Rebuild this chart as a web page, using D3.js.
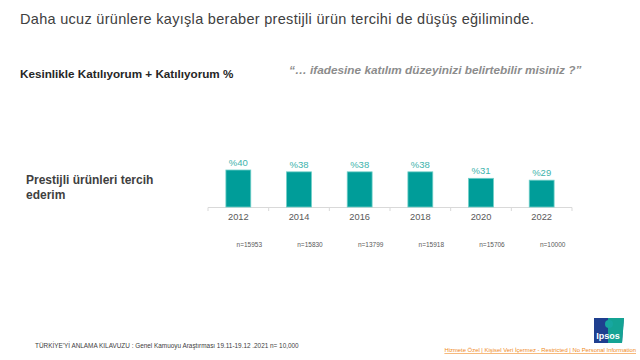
<!DOCTYPE html>
<html><head><meta charset="utf-8">
<script src="https://cdn.jsdelivr.net/npm/d3@7"></script>
<style>body{margin:0;background:#fff}svg{display:block}</style>
</head><body><svg id="c" width="640" height="360"></svg>
<script>
const years = ["2012","2014","2016","2018","2020","2022"];
const values = [40,38,38,38,31,29];
const sampleSizes = ["n=15953","n=15830","n=13799","n=15918","n=15706","n=10000"];
const rowLabel = ["Prestijli ürünleri tercih","ederim"];

const svg = d3.select("#c");
const font = "Liberation Sans, Arial, sans-serif";

svg.append("text").attr("x",20).attr("y",24).attr("font-family",font).attr("font-size",14.5)
  .attr("letter-spacing",0.3).attr("fill","#404040").text("Daha ucuz ürünlere kayışla beraber prestijli ürün tercihi de düşüş eğiliminde.");
svg.append("text").attr("x",20).attr("y",78).attr("font-family",font).attr("font-size",11.7).attr("font-weight","bold")
  .attr("fill","#262626").text("Kesinlikle Katılıyorum + Katılıyorum %");
svg.append("text").attr("x",289).attr("y",74).attr("font-family",font).attr("font-size",11.8).attr("font-weight","bold")
  .attr("font-style","italic").attr("fill","#8c8c8c").text("“… ifadesine katılım düzeyinizi belirtebilir misiniz ?”");

const rl = svg.append("text").attr("font-family",font).attr("font-size",12).attr("font-weight","bold").attr("fill","#404040");
rowLabel.forEach((t,i)=>rl.append("tspan").attr("x",26).attr("y",184+i*15).text(t));

const x = d3.scaleBand().domain(years).range([208,572]).paddingInner(0.59).paddingOuter(0.295);
const y = d3.scaleLinear().domain([0,40]).range([207,170]);

const band = (572-208)/years.length;
const g = svg.append("g");
g.append("line").attr("x1",208).attr("x2",572).attr("y1",207.5).attr("y2",207.5).attr("stroke","#d9d9d9");
d3.range(years.length+1).forEach(i=>{
  g.append("line").attr("x1",208+i*band).attr("x2",208+i*band).attr("y1",207.5).attr("y2",211).attr("stroke","#d9d9d9");
});

g.selectAll("rect.bar").data(values).join("rect").attr("class","bar")
  .attr("x",(d,i)=>x(years[i])).attr("width",x.bandwidth())
  .attr("y",d=>y(d)).attr("height",d=>y(0)-y(d))
  .attr("fill","#009d99").attr("stroke","#6fcfc8").attr("stroke-width",0.8);

g.selectAll("text.val").data(values).join("text").attr("class","val")
  .attr("x",(d,i)=>x(years[i])+x.bandwidth()/2).attr("y",d=>y(d)-4)
  .attr("text-anchor","middle").attr("font-family",font).attr("font-size",9.5).attr("fill","#3db3ac")
  .text(d=>"%"+d);

g.selectAll("text.yr").data(years).join("text").attr("class","yr")
  .attr("x",d=>x(d)+x.bandwidth()/2).attr("y",220)
  .attr("text-anchor","middle").attr("font-family",font).attr("font-size",9.3).attr("fill","#595959").text(d=>d);

g.selectAll("text.n").data(sampleSizes).join("text").attr("class","n")
  .attr("x",(d,i)=>x(years[i])+x.bandwidth()/2+11).attr("y",247)
  .attr("text-anchor","middle").attr("font-family",font).attr("font-size",6.5).attr("fill","#595959").text(d=>d);

svg.append("text").attr("x",35).attr("y",348).attr("font-family",font).attr("font-size",6.4).attr("fill","#404040")
  .text("TÜRKİYE'Yİ ANLAMA KILAVUZU  : Genel Kamuoyu Araştırması 19.11-19.12  .2021 n= 10,000");
svg.append("text").attr("x",636).attr("y",352).attr("text-anchor","end").attr("font-family",font).attr("font-size",5.9)
  .attr("fill","#f08a24").attr("text-decoration","underline")
  .text("Hizmete Özel | Kişisel Veri İçermez - Restricted | No Personal Information");

// logo
const lg = svg.append("g");
lg.append("path").attr("d","M594,318 L624,318 L622,343 L594,343 Z").attr("fill","#2a6f97");
lg.append("path").attr("d","M608,318 L624,318 L622,343 L608,343 Z").attr("fill","#14a394");
lg.append("path").attr("d","M594,318 L608,318 L608,343 L594,343 Z").attr("fill","#1f3f8f");
lg.append("circle").attr("cx",609).attr("cy",324).attr("r",4).attr("fill","#17a6a0");
lg.append("text").attr("x",608).attr("y",339).attr("text-anchor","middle").attr("font-family",font)
  .attr("font-size",9).attr("font-weight","bold").attr("fill","#fff").text("Ipsos");
</script></body></html>
